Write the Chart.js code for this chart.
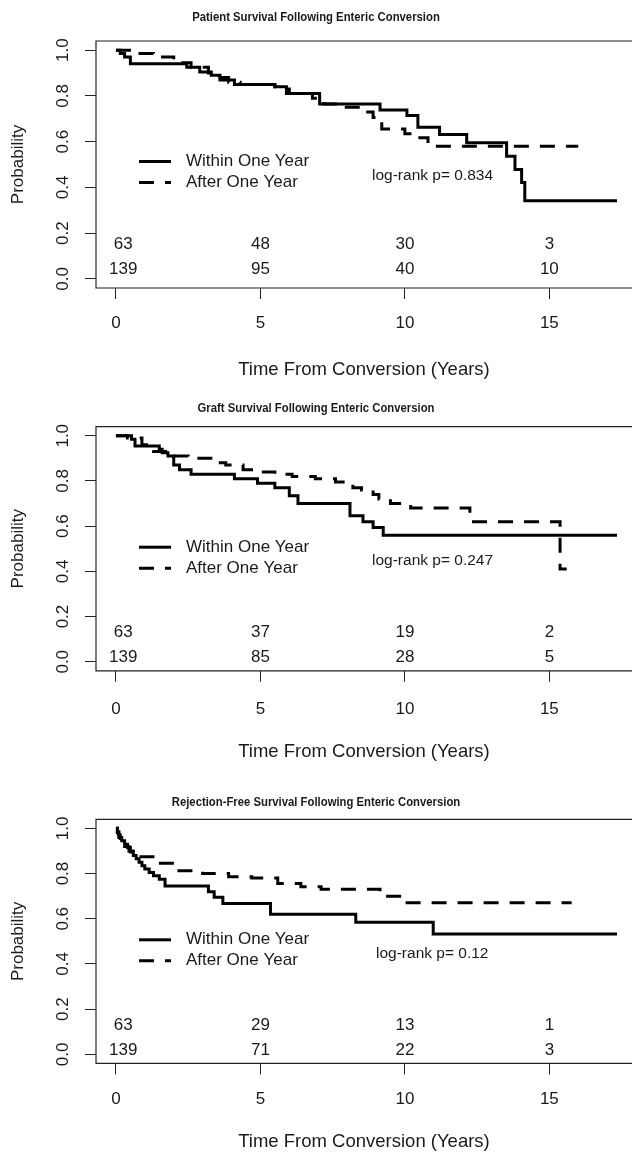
<!DOCTYPE html>
<html>
<head>
<meta charset="utf-8">
<title>Survival Following Enteric Conversion</title>
<script src="https://cdn.jsdelivr.net/npm/chart.js@4.4.1/dist/chart.umd.min.js"></script>
<style>
    html, body { margin: 0; padding: 0; background: #fff; overflow: hidden; }
    #wrap { position: relative; width: 632px; height: 1157px; overflow: hidden; }
    .panel { position: absolute; left: 0; }
</style>
</head>
<body>
<div id="wrap">
    <canvas id="c1" class="panel" width="632" height="390" style="top:0px"></canvas>
    <canvas id="c2" class="panel" width="632" height="392" style="top:390px"></canvas>
    <canvas id="c3" class="panel" width="632" height="375" style="top:782px"></canvas>
</div>
<script>
// Shared axis ticks and labels
const xTicks = [0, 5, 10, 15];
const yTicks = [0, 0.2, 0.4, 0.6, 0.8, 1.0];
const groupLabels = ['Within One Year', 'After One Year'];
const riskTimes = [0.25, 5, 10, 15];

// Patient survival
const patientWithinT = [0, 0.15, 0.3, 0.5, 2.45, 2.9, 3.3, 3.6, 4.1, 5.5, 5.9, 7.05, 9.14, 10.07, 10.45, 11.2, 12.14, 13.52, 13.81, 14.04, 14.15, 17.34];
const patientWithinS = [1, 0.985, 0.97, 0.94, 0.925, 0.905, 0.89, 0.87, 0.85, 0.84, 0.81, 0.765, 0.738, 0.714, 0.663, 0.631, 0.595, 0.536, 0.478, 0.421, 0.342, 0.342];
const patientAfterT = [0, 0.7, 1.3, 2.0, 2.6, 3.2, 3.5, 3.9, 4.3, 5.5, 6.0, 6.8, 7.2, 7.9, 8.5, 8.9, 9.2, 10.0, 10.3, 10.8, 16.0];
const patientAfterS = [1, 0.985, 0.97, 0.945, 0.925, 0.9, 0.88, 0.86, 0.85, 0.83, 0.81, 0.79, 0.765, 0.75, 0.73, 0.705, 0.655, 0.635, 0.617, 0.58, 0.58];
const patientRiskWithin = [63, 48, 30, 3];
const patientRiskAfter = [139, 95, 40, 10];

// Graft survival
const graftWithinT = [0, 0.54, 0.66, 1.5, 1.6, 1.8, 2.0, 2.2, 2.6, 4.1, 4.9, 5.5, 6.0, 6.3, 8.1, 8.55, 8.9, 9.25, 17.34];
const graftWithinS = [1, 0.985, 0.955, 0.94, 0.925, 0.91, 0.87, 0.85, 0.83, 0.81, 0.79, 0.77, 0.735, 0.70, 0.646, 0.619, 0.594, 0.56, 0.56];
const graftAfterT = [0, 0.4, 0.9, 1.3, 2.0, 2.5, 3.4, 3.8, 4.4, 5.1, 5.5, 6.1, 6.9, 7.6, 8.2, 8.5, 8.9, 9.1, 9.5, 10.2, 12.25, 15.37, 15.6];
const graftAfterS = [1, 0.99, 0.96, 0.93, 0.91, 0.90, 0.88, 0.87, 0.85, 0.84, 0.83, 0.82, 0.81, 0.795, 0.77, 0.76, 0.74, 0.72, 0.70, 0.68, 0.62, 0.41, 0.41];
const graftRiskWithin = [63, 37, 19, 2];
const graftRiskAfter = [139, 85, 28, 5];

// Rejection-free survival
const rejectWithinT = [0, 0.05, 0.1, 0.15, 0.2, 0.3, 0.4, 0.5, 0.6, 0.7, 0.8, 0.9, 1.0, 1.15, 1.3, 1.5, 1.7, 3.2, 3.4, 3.7, 5.35, 8.3, 10.98, 17.34];
const rejectWithinS = [1, 0.985, 0.97, 0.955, 0.945, 0.93, 0.915, 0.895, 0.88, 0.865, 0.85, 0.835, 0.82, 0.805, 0.79, 0.775, 0.745, 0.72, 0.695, 0.668, 0.62, 0.584, 0.532, 0.532];
const rejectAfterT = [0, 0.05, 0.1, 0.2, 0.3, 0.45, 0.6, 0.8, 1.4, 2.1, 3.0, 3.9, 4.7, 5.6, 6.4, 7.1, 9.14, 9.89, 15.77];
const rejectAfterS = [1, 0.98, 0.96, 0.94, 0.92, 0.9, 0.885, 0.874, 0.845, 0.812, 0.80, 0.786, 0.78, 0.756, 0.742, 0.73, 0.70, 0.671, 0.671];
const rejectRiskWithin = [63, 29, 13, 1];
const rejectRiskAfter = [139, 71, 22, 3];

const FONT = '"Liberation Sans", Arial, Helvetica, sans-serif';
const INK = '#1a1a1a';
const DASH = [15, 11];

function toPoints(t, s) {
    return t.map((v, i) => ({ x: v, y: s[i] }));
}

// Draws the R-style box, labels, legend and numbers at risk
const rPlot = {
    id: 'rPlot',
    afterDraw(chart, args, o) {
        const ctx = chart.ctx;
        const a = chart.chartArea;
        const xs = chart.scales.x;
        const ys = chart.scales.y;
        ctx.save();

        // box (right side falls just outside the picture)
        ctx.strokeStyle = '#222';
        ctx.lineWidth = 1.2;
        ctx.beginPath();
        ctx.moveTo(a.right + 2, a.top);
        ctx.lineTo(a.left, a.top);
        ctx.lineTo(a.left, a.bottom);
        ctx.lineTo(a.right + 2, a.bottom);
        ctx.stroke();

        ctx.fillStyle = INK;
        ctx.textAlign = 'center';
        ctx.textBaseline = 'middle';

        // title, bold and slightly condensed
        ctx.save();
        ctx.font = 'bold 13px ' + FONT;
        ctx.translate(316, o.titleY);
        ctx.scale(0.87, 1);
        ctx.fillText(o.title, 0, 0);
        ctx.restore();

        // x tick labels
        ctx.font = '17px ' + FONT;
        xTicks.forEach(v => {
            ctx.fillText(String(v), xs.getPixelForValue(v), a.bottom + o.tickOff);
        });

        // y tick labels, rotated like R
        yTicks.forEach(v => {
            ctx.save();
            ctx.translate(a.left - 33, ys.getPixelForValue(v));
            ctx.rotate(-Math.PI / 2);
            ctx.fillText(v.toFixed(1), 0, 0);
            ctx.restore();
        });

        // axis titles
        ctx.save();
        ctx.translate(18, (a.top + a.bottom) / 2);
        ctx.rotate(-Math.PI / 2);
        ctx.fillText('Probability', 0, 0);
        ctx.restore();
        ctx.font = '18.5px ' + FONT;
        ctx.fillText('Time From Conversion (Years)', 364, a.bottom + o.xTitleOff);
        ctx.font = '17px ' + FONT;

        // numbers at risk
        riskTimes.forEach((t, i) => {
            const px = xs.getPixelForValue(t);
            ctx.fillText(String(o.riskWithin[i]), px, ys.getPixelForValue(o.riskY[0]));
            ctx.fillText(String(o.riskAfter[i]), px, ys.getPixelForValue(o.riskY[1]));
        });

        // legend
        const ly = a.top + 120.5;
        ctx.strokeStyle = '#000';
        ctx.lineWidth = 3;
        ctx.beginPath();
        ctx.moveTo(a.left + 43, ly);
        ctx.lineTo(a.left + 75, ly);
        ctx.stroke();
        ctx.setLineDash(DASH);
        ctx.beginPath();
        ctx.moveTo(a.left + 43, ly + 21);
        ctx.lineTo(a.left + 75, ly + 21);
        ctx.stroke();
        ctx.setLineDash([]);
        ctx.textAlign = 'left';
        ctx.fillText(groupLabels[0], a.left + 90, ly);
        ctx.fillText(groupLabels[1], a.left + 90, ly + 21);

        // log-rank test
        ctx.font = '15.5px ' + FONT;
        ctx.fillText('log-rank p= ' + o.pValue, o.pX, a.top + 134.5);

        ctx.restore();
    }
};

function makePanel(id, p) {
    const canvas = document.getElementById(id);
    const h = canvas.height;
    new Chart(canvas, {
        type: 'line',
        data: {
            datasets: [{
                label: groupLabels[0],
                data: toPoints(p.withinT, p.withinS),
                borderColor: '#000',
                borderWidth: 3,
                stepped: true,
                pointRadius: 0,
                fill: false
            }, {
                label: groupLabels[1],
                data: toPoints(p.afterT, p.afterS),
                borderColor: '#000',
                borderWidth: 3,
                borderDash: DASH,
                stepped: true,
                pointRadius: 0,
                fill: false
            }]
        },
        options: {
            responsive: false,
            animation: false,
            devicePixelRatio: 1,
            layout: { padding: { top: p.top, left: 0, right: 0, bottom: 0 }, autoPadding: false },
            plugins: {
                legend: { display: false },
                tooltip: { enabled: false },
                rPlot: p
            },
            scales: {
                x: {
                    type: 'linear',
                    min: -0.69,
                    max: 17.86,
                    afterBuildTicks: s => { s.ticks = xTicks.map(v => ({ value: v })); },
                    afterFit: s => { s.height = h - p.bottom; },
                    grid: { drawOnChartArea: false, drawTicks: true, tickLength: 11, color: '#222', lineWidth: 1 },
                    border: { display: false },
                    ticks: { display: false }
                },
                y: {
                    type: 'linear',
                    min: -0.04,
                    max: 1.04,
                    afterBuildTicks: s => { s.ticks = yTicks.map(v => ({ value: v })); },
                    afterFit: s => { s.width = 96; },
                    grid: { drawOnChartArea: false, drawTicks: true, tickLength: 11, color: '#222', lineWidth: 1 },
                    border: { display: false },
                    ticks: { display: false }
                }
            }
        },
        plugins: [rPlot]
    });
}

makePanel('c1', {
    title: 'Patient Survival Following Enteric Conversion',
    titleY: 17, top: 41, bottom: 288, tickOff: 35, xTitleOff: 82, pX: 372, pValue: '0.834',
    riskY: [0.15, 0.04],
    withinT: patientWithinT, withinS: patientWithinS,
    afterT: patientAfterT, afterS: patientAfterS,
    riskWithin: patientRiskWithin, riskAfter: patientRiskAfter
});

makePanel('c2', {
    title: 'Graft Survival Following Enteric Conversion',
    titleY: 18, top: 36.7, bottom: 280.8, tickOff: 38.5, xTitleOff: 81, pX: 372, pValue: '0.247',
    riskY: [0.13, 0.02],
    withinT: graftWithinT, withinS: graftWithinS,
    afterT: graftAfterT, afterS: graftAfterS,
    riskWithin: graftRiskWithin, riskAfter: graftRiskAfter
});

makePanel('c3', {
    title: 'Rejection-Free Survival Following Enteric Conversion',
    titleY: 20, top: 37.3, bottom: 281.4, tickOff: 35.5, xTitleOff: 79, pX: 376, pValue: '0.12',
    riskY: [0.13, 0.02],
    withinT: rejectWithinT, withinS: rejectWithinS,
    afterT: rejectAfterT, afterS: rejectAfterS,
    riskWithin: rejectRiskWithin, riskAfter: rejectRiskAfter
});
</script>
</body>
</html>
